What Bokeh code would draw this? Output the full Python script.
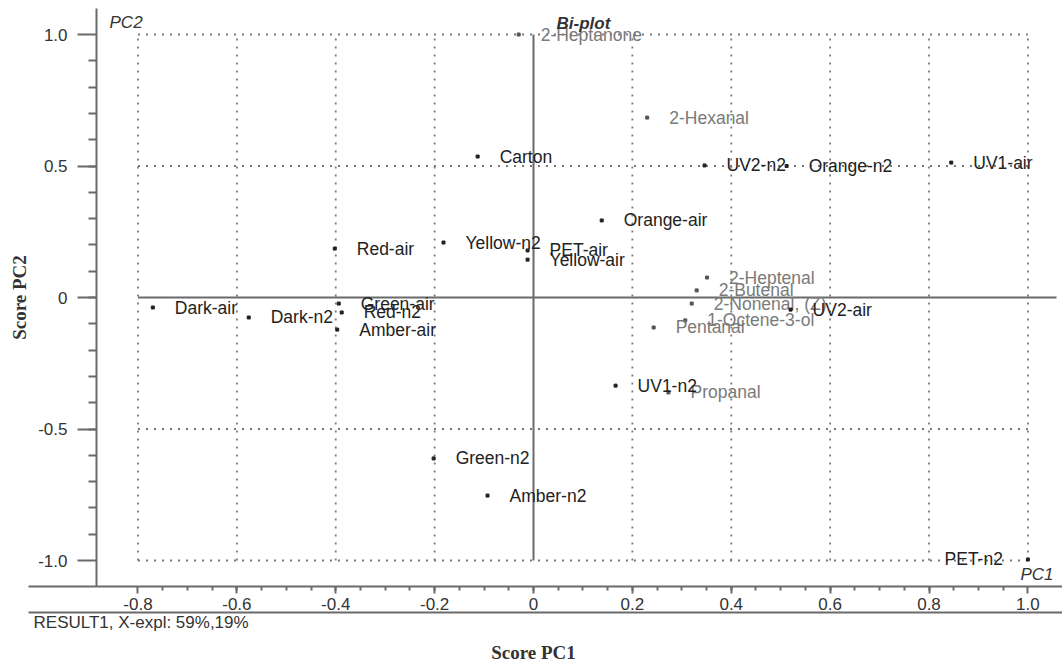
from bokeh.plotting import figure
from bokeh.models import (Range1d, LinearAxis, FixedTicker, CustomJSTickFormatter,
                          ColumnDataSource, Label)
from bokeh.core.properties import value
from bokeh.embed import file_html
from bokeh.resources import INLINE

# ---- data ----
sample_names = ["Dark-air", "Dark-n2", "Green-air", "Red-n2", "Amber-air", "Red-air",
                "Yellow-n2", "PET-air", "Yellow-air", "Orange-air", "Carton", "UV2-n2",
                "Orange-n2", "UV1-air", "UV2-air", "UV1-n2", "Green-n2", "Amber-n2", "PET-n2"]
sample_pc1 = [-0.770, -0.576, -0.394, -0.388, -0.397, -0.402,
              -0.182, -0.012, -0.012, 0.138, -0.113, 0.346,
              0.512, 0.845, 0.520, 0.166, -0.202, -0.093, 1.000]
sample_pc2 = [-0.038, -0.076, -0.023, -0.057, -0.122, 0.186,
              0.209, 0.179, 0.144, 0.293, 0.536, 0.502,
              0.500, 0.513, -0.046, -0.335, -0.612, -0.753, -0.996]
sample_label_side = ["right"] * 18 + ["left"]

var_names = ["2-Heptanone", "2-Hexanal", "2-Heptenal", "2-Butenal", "2-Nonenal, (Z)",
             "1-Octene-3-ol", "Pentanal", "Propanal"]
var_pc1 = [-0.030, 0.230, 0.351, 0.330, 0.320, 0.307, 0.243, 0.273]
var_pc2 = [1.000, 0.684, 0.076, 0.027, -0.023, -0.087, -0.114, -0.361]

x_ticks = [-0.8, -0.6, -0.4, -0.2, 0.0, 0.2, 0.4, 0.6, 0.8, 1.0]
y_ticks = [-1.0, -0.5, 0.0, 0.5, 1.0]
x_minor = [round(-0.75 + 0.05 * i, 2) for i in range(35)]
y_minor = [round(-0.9 + 0.1 * i, 2) for i in range(19)]

# ---- figure ----
X0, X1 = -1.0781, 1.0700
Y0, Y1 = -1.3916, 1.1293
AX_X = -0.8839       # y-axis position
AX_Y = -1.0989       # x-axis position
FONT = "Liberation Sans"
AXC = "#6a6a6a"

p = figure(width=1062, height=663, x_range=Range1d(X0, X1), y_range=Range1d(Y0, Y1),
           x_axis_type=None, y_axis_type=None, output_backend="svg",
           toolbar_location=None, min_border=0)
p.outline_line_color = None
p.background_fill_color = "white"
p.border_fill_color = "white"

fmt = CustomJSTickFormatter(code="return Math.abs(tick) < 1e-9 ? '0' : tick.toFixed(1);")

yaxis = LinearAxis(fixed_location=AX_X, bounds=(AX_Y, 1.0989),
                   ticker=FixedTicker(ticks=y_ticks, minor_ticks=y_minor),
                   formatter=fmt)
xaxis = LinearAxis(fixed_location=AX_Y, bounds=(-1.0214, X1),
                   ticker=FixedTicker(ticks=x_ticks, minor_ticks=x_minor),
                   formatter=fmt)
for ax in (yaxis, xaxis):
    ax.axis_line_color = AXC
    ax.axis_line_width = 2
    ax.major_tick_line_color = AXC
    ax.major_tick_line_width = 2
    ax.minor_tick_line_color = AXC
    ax.minor_tick_line_width = 2
    ax.major_tick_in = 0
    ax.minor_tick_in = 0
    ax.major_label_text_font = FONT
    ax.major_label_text_font_size = "17px"
    ax.major_label_text_color = "#333333"
yaxis.major_tick_out = 19
yaxis.minor_tick_out = 8
yaxis.major_label_standoff = 10
xaxis.major_tick_out = 7
xaxis.minor_tick_out = 4
xaxis.major_label_standoff = 4
p.add_layout(yaxis, "left")
p.add_layout(xaxis, "below")

# dotted grid
gx = [t for t in x_ticks if t != 0]
gy = [t for t in y_ticks if t != 0]
p.segment(x0=gx, y0=[-1.0] * len(gx), x1=gx, y1=[1.0] * len(gx),
          line_color="#7a7a7a", line_width=1.8, line_dash="2 6")
p.segment(x0=[-0.8] * len(gy), y0=gy, x1=[1.0] * len(gy), y1=gy,
          line_color="#7a7a7a", line_width=1.8, line_dash="2 6")
# origin lines
p.segment(x0=[0.0], y0=[-1.0], x1=[0.0], y1=[1.0], line_color=AXC, line_width=2)
p.segment(x0=[-0.8], y0=[0.0], x1=[1.058], y1=[0.0], line_color=AXC, line_width=2)
# lower rule
p.segment(x0=[-1.0214], y0=[-1.198], x1=[X1], y1=[-1.198], line_color=AXC, line_width=2)

# variables (grey)
vsrc = ColumnDataSource(dict(x=var_pc1, y=var_pc2, name=var_names))
p.scatter("x", "y", source=vsrc, size=3, color="#555555", marker="square")
p.text("x", "y", text="name", source=vsrc, x_offset=22, text_baseline="middle",
       text_font=value(FONT), text_font_size="17.5px", text_color="#7a7a7a")

# samples (black)
offs = [22 if s == "right" else -25 for s in sample_label_side]
aligns = ["left" if s == "right" else "right" for s in sample_label_side]
ssrc = ColumnDataSource(dict(x=sample_pc1, y=sample_pc2, name=sample_names,
                             off=offs, al=aligns))
p.scatter("x", "y", source=ssrc, size=3, color="#222222", marker="square")
p.text("x", "y", text="name", source=ssrc, x_offset="off", text_align="al",
       text_baseline="middle", text_font=value(FONT), text_font_size="17.5px",
       text_color="#222222")

# annotations
p.add_layout(Label(x=-0.8576, y=1.0456, text="PC2", text_font=FONT, text_font_size="17px",
                   text_font_style="italic", text_color="#333333", text_baseline="middle"))
p.add_layout(Label(x=0.0465, y=1.042, text="Bi-plot", text_font=FONT, text_font_size="17px",
                   text_font_style="bold italic", text_color="#333333", text_baseline="middle"))
p.add_layout(Label(x=0.985, y=-1.053, text="PC1", text_font=FONT, text_font_size="17px",
                   text_font_style="italic", text_color="#333333", text_baseline="middle"))
p.add_layout(Label(x=-1.0113, y=-1.2357, text="RESULT1, X-expl: 59%,19%", text_font=FONT,
                   text_font_size="17px", text_color="#333333", text_baseline="middle"))
p.add_layout(Label(x=0.0, y=-1.3498, text="Score PC1", text_font="Liberation Serif",
                   text_font_size="19px", text_font_style="bold", text_color="#333333",
                   text_align="center", text_baseline="middle"))
p.add_layout(Label(x=-1.0396, y=0.0, text="Score PC2", text_font="Liberation Serif",
                   text_font_size="19px", text_font_style="bold", text_color="#333333",
                   text_align="center", text_baseline="middle", angle=1.5708))

open("out.html", "w").write(file_html(p, INLINE))
